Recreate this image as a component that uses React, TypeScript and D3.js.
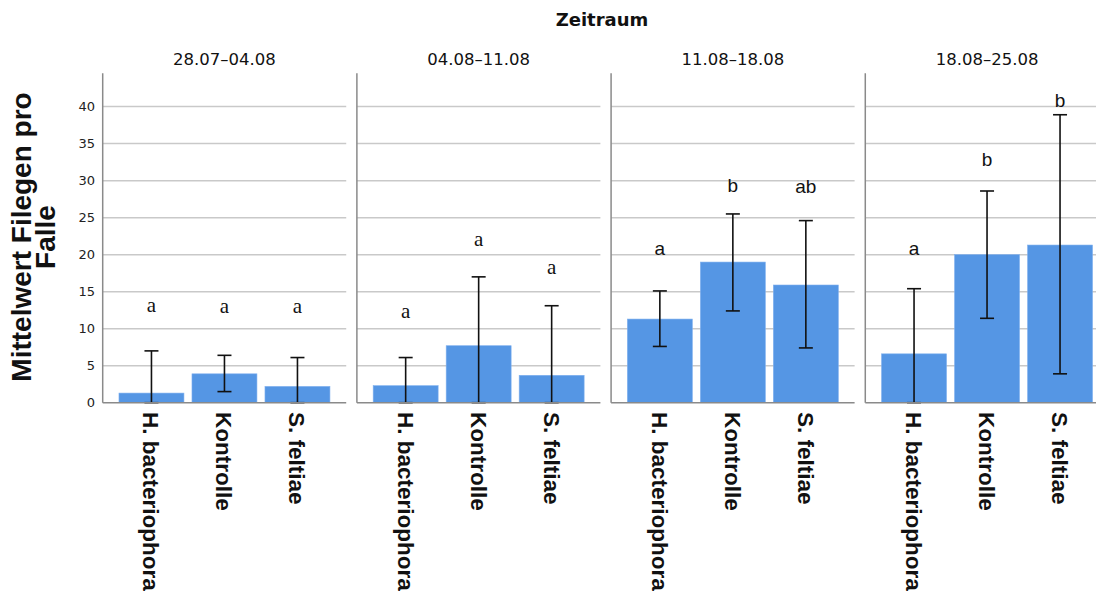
import React from 'react'
import * as d3 from 'd3'

const PERIODS = ['28.07–04.08', '04.08–11.08', '11.08–18.08', '18.08–25.08']
const GROUPS = ['H. bacteriophora', 'Kontrolle', 'S. feltiae']

// Mittelwert je Zeitraum (Reihenfolge wie GROUPS)
const MEANS = [
  [1.3, 3.9, 2.2],
  [2.3, 7.7, 3.7],
  [11.3, 19.0, 15.9],
  [6.6, 20.0, 21.3],
]
const ERR_LOW = [
  [0, 1.5, 0],
  [0, 0, 0],
  [7.6, 12.4, 7.4],
  [0, 11.4, 3.9],
]
const ERR_HIGH = [
  [7.0, 6.4, 6.1],
  [6.1, 17.0, 13.1],
  [15.1, 25.5, 24.6],
  [15.4, 28.6, 38.9],
]
const LETTERS = [
  ['a', 'a', 'a'],
  ['a', 'a', 'a'],
  ['a', 'b', 'ab'],
  ['a', 'b', 'b'],
]
const LETTER_POS = [
  [12.2, 12.1, 12.1],
  [11.4, 21.2, 17.4],
  [20.0, 28.4, 28.3],
  [20.0, 32.0, 39.9],
]
const Y_TICKS = [0, 5, 10, 15, 20, 25, 30, 35, 40]

const W = 1096
const H = 592
const TOP = 73.3
const BOTTOM = 402.7
const BAR = '#5596E4'
const GRID = '#c9c9c9'
const AXIS = '#8a8a8a'
const SANS = '"Liberation Sans", Arial, sans-serif'
const DEJAVU = '"DejaVu Sans", sans-serif'

export default function App() {
  const y = d3.scaleLinear().domain([0, 44.5]).range([BOTTOM, TOP])
  const px = d3.scaleBand<string>().domain(PERIODS).range([102.7, 1108.8]).paddingInner(0.042).paddingOuter(0)
  const gx = d3.scaleBand<string>().domain(GROUPS).range([0, px.bandwidth()]).paddingInner(0.11).paddingOuter(0.223)
  const pw = px.bandwidth()

  return (
    <svg width={W} height={H} style={{ position: 'absolute', left: 0, top: 0, background: '#fff', overflow: 'hidden' }}>
      <text x={602} y={26} textAnchor="middle" fontFamily={DEJAVU} fontWeight="bold" fontSize={18} fill="#111">Zeitraum</text>

      {/* Y-Achsentitel */}
      <g fontFamily={SANS} fontWeight="bold" fontSize={28} fill="#111" textAnchor="middle">
        <text transform="translate(31,237) rotate(-90)">Mittelwert Filegen pro</text>
        <text transform="translate(55,237) rotate(-90)">Falle</text>
      </g>

      {/* Ticklabels */}
      {Y_TICKS.map(t => (
        <text key={t} x={95} y={y(t)} dy="0.36em" textAnchor="end" fontFamily={DEJAVU} fontSize={13} fill="#222">{t}</text>
      ))}

      {PERIODS.map((p, pi) => {
        const x0 = px(p)!
        return (
          <g key={p} transform={`translate(${x0},0)`}>
            <text x={pw / 2} y={65} textAnchor="middle" fontFamily={DEJAVU} fontSize={16.5} fill="#111">{p}</text>
            {Y_TICKS.filter(t => t > 0).map(t => (
              <line key={t} x1={0} x2={pw} y1={y(t)} y2={y(t)} stroke={GRID} strokeWidth={1.5} />
            ))}
            {GROUPS.map((g, gi) => {
              const bx = gx(g)!
              const cx = bx + gx.bandwidth() / 2
              const lo = y(ERR_LOW[pi][gi])
              const hi = y(ERR_HIGH[pi][gi])
              return (
                <g key={g}>
                  <rect x={bx} y={y(MEANS[pi][gi])} width={gx.bandwidth()} height={BOTTOM - y(MEANS[pi][gi])} fill={BAR} stroke="#7fb0ee" strokeWidth={0.6} />
                  <line x1={cx} x2={cx} y1={lo} y2={hi} stroke="#111" strokeWidth={1.6} />
                  <line x1={cx - 7} x2={cx + 7} y1={hi} y2={hi} stroke="#111" strokeWidth={1.6} />
                  <line x1={cx - 7} x2={cx + 7} y1={lo} y2={lo} stroke="#111" strokeWidth={1.6} />
                  <text
                    x={cx} y={y(LETTER_POS[pi][gi])} textAnchor="middle"
                    fontFamily={pi < 2 ? '"Liberation Serif", serif' : SANS}
                    fontSize={pi < 2 ? 21 : 19} fill="#111"
                  >{LETTERS[pi][gi]}</text>
                  <text
                    transform={`translate(${cx},412) rotate(90)`} dy="0.36em"
                    fontFamily={SANS} fontWeight="bold" fontSize={22.5} fill="#111"
                  >{g}</text>
                </g>
              )
            })}
            <line x1={0} x2={0} y1={TOP} y2={BOTTOM} stroke={AXIS} strokeWidth={1.5} />
            <line x1={0} x2={pw} y1={BOTTOM} y2={BOTTOM} stroke={AXIS} strokeWidth={1.5} />
          </g>
        )
      })}
    </svg>
  )
}
